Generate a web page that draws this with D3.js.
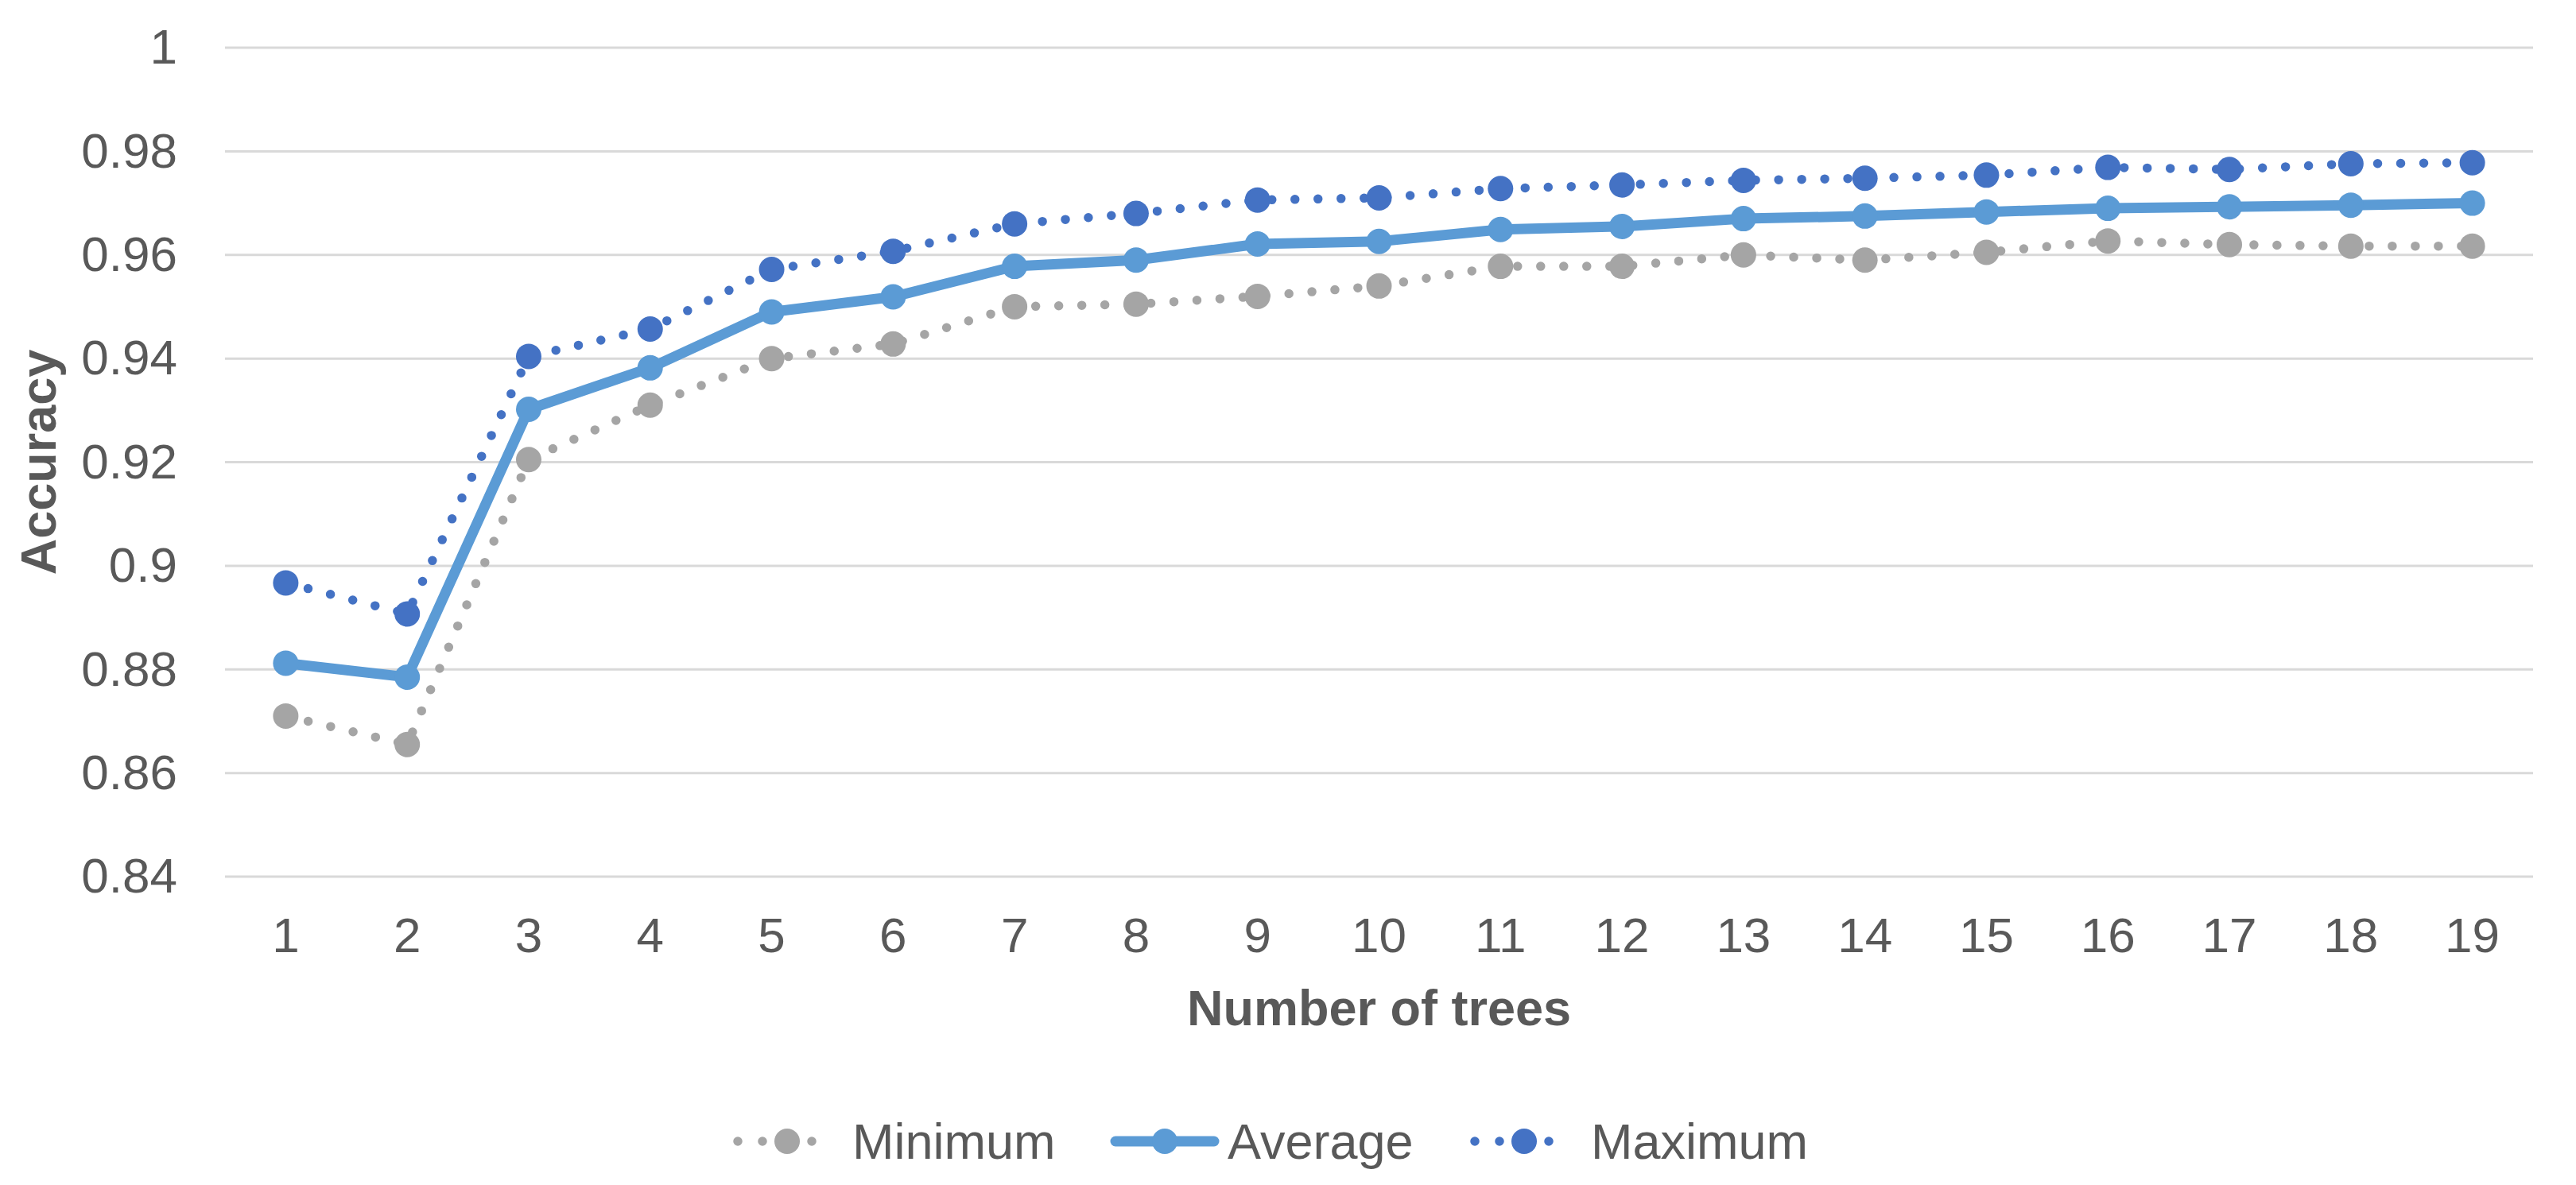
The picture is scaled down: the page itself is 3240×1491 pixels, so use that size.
<!DOCTYPE html>
<meta charset="utf-8">
<script src="https://d3js.org/d3.v7.min.js"></script>
<style>
  body { margin: 0; background: #fff; }
  text { font-family: "Liberation Sans", Arial, sans-serif; fill: #595959; }
</style>
<div id="chart"></div>
<script>

// data
var trees = ["1","2","3","4","5","6","7","8","9","10","11","12","13","14","15","16","17","18","19"];
var minimum = [0.871, 0.8655, 0.9205, 0.931, 0.940, 0.9428, 0.950, 0.9505, 0.952, 0.954, 0.9578, 0.9578, 0.960, 0.959, 0.9605, 0.9627, 0.962, 0.9617, 0.9617];
var average = [0.8812, 0.8785, 0.9302, 0.9382, 0.9490, 0.9519, 0.9578, 0.9590, 0.9621, 0.9626, 0.9649, 0.9655, 0.9670, 0.9675, 0.9683, 0.9690, 0.9693, 0.9696, 0.9700];
var maximum = [0.8967, 0.8907, 0.9404, 0.9457, 0.9572, 0.9607, 0.9660, 0.9680, 0.9706, 0.9710, 0.9728, 0.9735, 0.9744, 0.9748, 0.9754, 0.9769, 0.9765, 0.9776, 0.9778];
var yTicks = [0.84, 0.86, 0.88, 0.9, 0.92, 0.94, 0.96, 0.98, 1];

var series = [
  {name: "Minimum", values: minimum, color: "#A5A5A5", dotted: true},
  {name: "Average", values: average, color: "#5B9BD5", dotted: false},
  {name: "Maximum", values: maximum, color: "#4472C4", dotted: true}
];

var W = 3240, H = 1491;
var margin = {top: 60, right: 54, bottom: 388, left: 283},
    width = W - margin.left - margin.right,
    height = H - margin.top - margin.bottom;

var svg = d3.select("#chart").append("svg")
    .attr("width", W)
    .attr("height", H);

var g = svg.append("g")
    .attr("transform", "translate(" + margin.left + "," + margin.top + ")");

var x = d3.scaleBand().domain(trees).range([0, width]).padding(0);
var y = d3.scaleLinear().domain([0.84, 1]).range([height, 0]);
var cx = function(i) { return x(trees[i]) + x.bandwidth() / 2; };

// gridlines
g.append("g")
  .selectAll("line")
  .data(yTicks)
  .enter().append("line")
    .attr("x1", 0).attr("x2", width)
    .attr("y1", function(d) { return y(d); })
    .attr("y2", function(d) { return y(d); })
    .attr("stroke", "#D9D9D9")
    .attr("stroke-width", 3);

// y axis
var yAxis = g.append("g")
  .call(d3.axisLeft(y).tickValues(yTicks).tickSize(0).tickPadding(60)
    .tickFormat(function(d) { return String(+d.toFixed(2)); }));
yAxis.select(".domain").remove();
yAxis.selectAll("text").style("font-size", "62px").attr("fill", "#595959")
  .style("font-family", "'Liberation Sans', Arial, sans-serif");

// x axis
var xAxis = g.append("g")
  .attr("transform", "translate(0," + height + ")")
  .call(d3.axisBottom(x).tickSize(0).tickPadding(51));
xAxis.select(".domain").remove();
xAxis.selectAll("text").style("font-size", "62px").attr("fill", "#595959")
  .style("font-family", "'Liberation Sans', Arial, sans-serif");

// axis titles
svg.append("text")
  .attr("x", margin.left + width / 2)
  .attr("y", 1290)
  .attr("text-anchor", "middle")
  .style("font-size", "63px")
  .style("font-weight", "bold")
  .text("Number of trees");

svg.append("text")
  .attr("transform", "translate(70," + (margin.top + height / 2) + ") rotate(-90)")
  .attr("text-anchor", "middle")
  .style("font-size", "63px")
  .style("font-weight", "bold")
  .text("Accuracy");

// lines
var line = d3.line()
  .x(function(d, i) { return cx(i); })
  .y(function(d) { return y(d); });

series.forEach(function(s) {
  g.append("path")
    .datum(s.values)
    .attr("fill", "none")
    .attr("stroke", s.color)
    .attr("stroke-width", s.dotted ? 11.5 : 13)
    .attr("stroke-linecap", "round")
    .attr("stroke-linejoin", "round")
    .attr("stroke-dasharray", s.dotted ? "0,29" : null)
    .attr("d", line);

  g.append("g")
    .selectAll("circle")
    .data(s.values)
    .enter().append("circle")
      .attr("cx", function(d, i) { return cx(i); })
      .attr("cy", function(d) { return y(d); })
      .attr("r", 16)
      .attr("fill", s.color);
});

// legend
var legendY = 1436;
var legendItems = [
  {s: series[0], x0: 928, tx: 1072},
  {s: series[1], x0: 1403, tx: 1544},
  {s: series[2], x0: 1855, tx: 2001}
];
legendItems.forEach(function(it) {
  var lg = svg.append("g");
  lg.append("line")
    .attr("x1", it.x0).attr("x2", it.x0 + 124)
    .attr("y1", legendY).attr("y2", legendY)
    .attr("stroke", it.s.color)
    .attr("stroke-width", it.s.dotted ? 11.5 : 13)
    .attr("stroke-linecap", "round")
    .attr("stroke-dasharray", it.s.dotted ? "0,31" : null);
  lg.append("circle")
    .attr("cx", it.x0 + 62).attr("cy", legendY)
    .attr("r", 16)
    .attr("fill", it.s.color);
  lg.append("text")
    .attr("x", it.tx).attr("y", 1458)
    .style("font-size", "63px")
    .text(it.s.name);
});

</script>
